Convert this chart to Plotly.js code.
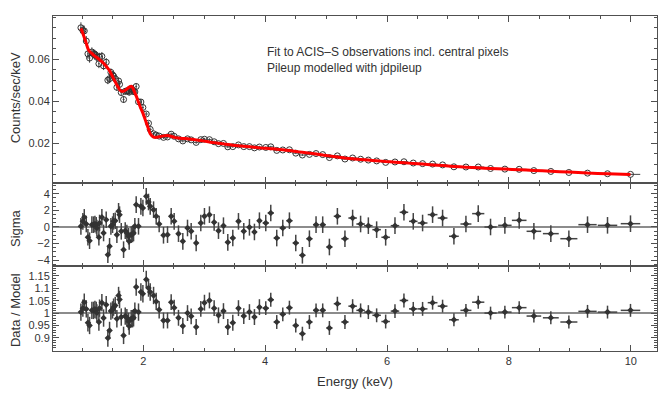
<!DOCTYPE html>
<html>
<head>
<meta charset="utf-8">
<script src="https://cdn.plot.ly/plotly-3.0.1.min.js"></script>
<style>html,body{margin:0;padding:0;background:#fff}#chart{width:664px;height:395px}</style>
</head>
<body>
<div id="chart"></div>
<script>
// Energy bin centres (keV)
const energy = [0.978,1.01,1.033,1.066,1.093,1.12,1.158,1.186,1.208,1.23,1.24,1.273,1.284,1.322,1.35,1.393,1.42,1.448,1.47,1.497,1.514,1.541,1.568,1.596,1.612,1.64,1.678,1.705,1.732,1.76,1.77,1.803,1.825,1.842,1.863,1.885,1.923,1.962,1.995,2.05,2.087,2.115,2.17,2.213,2.262,2.333,2.399,2.459,2.508,2.579,2.65,2.727,2.787,2.869,2.945,3.005,3.087,3.164,3.235,3.317,3.388,3.47,3.563,3.65,3.743,3.825,3.907,4.011,4.093,4.191,4.29,4.399,4.503,4.612,4.727,4.836,4.945,5.055,5.186,5.31,5.436,5.567,5.694,5.83,5.978,6.131,6.278,6.431,6.584,6.748,6.912,7.098,7.295,7.497,7.699,7.934,8.169,8.41,8.688,8.984,9.29,9.618,9.995];
// Bin half-widths (keV)
const energyErr = [0.015,0.015,0.015,0.015,0.015,0.015,0.015,0.015,0.015,0.015,0.015,0.015,0.015,0.015,0.015,0.015,0.015,0.015,0.015,0.015,0.015,0.015,0.015,0.015,0.015,0.015,0.015,0.015,0.015,0.015,0.015,0.015,0.015,0.015,0.015,0.015,0.015,0.015,0.015,0.025,0.025,0.025,0.025,0.025,0.025,0.035,0.035,0.035,0.035,0.035,0.035,0.035,0.035,0.035,0.035,0.035,0.035,0.035,0.035,0.035,0.04,0.04,0.04,0.04,0.04,0.04,0.04,0.05,0.05,0.05,0.05,0.05,0.05,0.05,0.05,0.05,0.05,0.05,0.06,0.06,0.07,0.07,0.07,0.07,0.07,0.07,0.07,0.07,0.08,0.08,0.08,0.08,0.09,0.1,0.1,0.11,0.12,0.12,0.13,0.14,0.15,0.16,0.16,0.17,0.19];
// Observed count rate (counts/sec/keV)
const counts = [0.0749,0.0736,0.0734,0.0686,0.0625,0.0605,0.0634,0.0626,0.0623,0.0617,0.0609,0.0578,0.0609,0.0613,0.0568,0.0585,0.0500,0.0507,0.0537,0.0525,0.0519,0.0507,0.0466,0.0496,0.0480,0.0441,0.0408,0.0447,0.0449,0.0449,0.0443,0.0460,0.0455,0.0446,0.0444,0.0470,0.0397,0.0396,0.0370,0.0339,0.0295,0.0266,0.0245,0.0239,0.0234,0.0228,0.0230,0.0243,0.0233,0.0221,0.0211,0.0221,0.0216,0.0204,0.0217,0.0219,0.0217,0.0207,0.0198,0.0199,0.0183,0.0184,0.0192,0.0184,0.0184,0.0178,0.0182,0.0180,0.0183,0.0166,0.0168,0.0169,0.0153,0.0144,0.0147,0.0151,0.0146,0.0132,0.0140,0.0125,0.0130,0.0124,0.0120,0.0116,0.0109,0.0111,0.0112,0.0106,0.0103,0.0101,0.0097,0.0088,0.0087,0.0087,0.0080,0.0077,0.0076,0.0070,0.0066,0.0061,0.0058,0.0055,0.0052];
const countsErr = [0.0026,0.0025,0.0025,0.0024,0.0023,0.0022,0.0022,0.0022,0.0021,0.0021,0.0021,0.0021,0.0021,0.0021,0.0020,0.0020,0.0019,0.0019,0.0019,0.0018,0.0018,0.0017,0.0017,0.0016,0.0016,0.0016,0.0016,0.0016,0.0016,0.0016,0.0016,0.0016,0.0016,0.0016,0.0015,0.0015,0.0014,0.0013,0.0012,0.0010,0.0009,0.0009,0.0008,0.0008,0.0008,0.00075,0.00076,0.00075,0.00073,0.00072,0.00071,0.00071,0.0007,0.00069,0.00068,0.00067,0.00066,0.00065,0.00064,0.00063,0.00062,0.00061,0.0006,0.0006,0.00059,0.00058,0.00057,0.00049,0.00049,0.00048,0.00047,0.00046,0.00045,0.00044,0.00043,0.00042,0.0004,0.00039,0.00038,0.00036,0.00035,0.00034,0.00034,0.00033,0.00032,0.00031,0.0003,0.00029,0.00028,0.00027,0.00024,0.00023,0.00022,0.00022,0.00021,0.0002,0.00019,0.00018,0.00017,0.00016,0.00015,0.00014,0.00013];
// Folded model (counts/sec/keV)
const model = [0.0746,0.0722,0.0703,0.0675,0.0650,0.0637,0.0627,0.0619,0.0614,0.0610,0.0608,0.0600,0.0597,0.0588,0.0580,0.0566,0.0556,0.0545,0.0533,0.0518,0.0507,0.0492,0.0477,0.0463,0.0455,0.0448,0.0448,0.0452,0.0458,0.0465,0.0467,0.0471,0.0466,0.0455,0.0440,0.0425,0.0395,0.0365,0.0343,0.0298,0.0268,0.0245,0.0229,0.0228,0.0231,0.0235,0.0237,0.0233,0.0228,0.0225,0.0223,0.0221,0.0219,0.0216,0.0213,0.0210,0.0206,0.0203,0.0200,0.0197,0.0194,0.0191,0.0188,0.0186,0.0183,0.0181,0.0178,0.0176,0.0174,0.0172,0.0169,0.0165,0.0161,0.0157,0.0153,0.0149,0.0144,0.0140,0.0135,0.0130,0.0126,0.0123,0.0120,0.0117,0.0113,0.0110,0.0107,0.0104,0.0101,0.0097,0.0094,0.0090,0.0086,0.0083,0.0080,0.0077,0.0074,0.0071,0.0067,0.0063,0.0058,0.0055,0.0051];
// Residuals in sigma
const sigma = [0.08,0.68,1.16,0.36,-1.24,-1.65,0.28,0.28,0.36,0.2,-0.12,-1.24,0.48,1.16,-0.72,0.88,-3.33,-2.33,0.08,0.28,0.68,0.76,-0.92,1.89,1.49,-0.52,-2.73,-0.44,-0.72,-1.12,-1.73,-0.92,-0.84,-0.72,0.08,2.69,0.08,2.49,2.29,3.69,3.01,2.49,2.09,1.29,0.36,-1.0,-0.92,1.29,0.68,-0.8,-1.73,-0.12,-0.52,-1.93,0.48,1.29,1.49,0.56,-0.44,0.16,-1.85,-1.33,0.68,-0.52,-0.04,-0.6,0.76,0.48,1.69,-1.33,-0.12,0.76,-1.93,-3.41,-1.41,0.28,0.28,-2.41,1.29,-1.41,1.08,0.36,0.16,-0.32,-1.24,0.16,1.77,0.68,0.48,1.49,1.08,-1.12,0.36,1.61,0.0,0.2,0.8,-0.52,-0.8,-1.41,0.28,0.2,0.4];
// Data / Model ratio
const ratio = [1.004,1.020,1.044,1.017,0.961,0.950,1.011,1.011,1.015,1.011,1.001,0.964,1.020,1.042,0.980,1.034,0.899,0.930,1.008,1.013,1.024,1.031,0.977,1.071,1.055,0.984,0.910,0.988,0.981,0.966,0.948,0.977,0.977,0.981,1.008,1.105,1.004,1.085,1.078,1.136,1.101,1.085,1.071,1.047,1.013,0.970,0.970,1.044,1.022,0.981,0.948,1.000,0.987,0.944,1.017,1.042,1.051,1.020,0.991,1.008,0.944,0.961,1.020,0.988,1.004,0.984,1.024,1.020,1.054,0.964,0.995,1.022,0.950,0.917,0.964,1.011,1.011,0.940,1.038,0.964,1.028,1.011,1.004,0.991,0.966,1.008,1.051,1.017,1.017,1.042,1.028,0.973,1.011,1.044,1.000,1.004,1.022,0.988,0.981,0.964,1.007,1.004,1.011];
const ratioErr = [0.035,0.035,0.035,0.035,0.035,0.035,0.035,0.035,0.035,0.035,0.035,0.035,0.035,0.035,0.035,0.035,0.035,0.035,0.035,0.035,0.035,0.035,0.035,0.035,0.035,0.035,0.035,0.035,0.035,0.035,0.035,0.035,0.035,0.035,0.035,0.035,0.035,0.035,0.035,0.035,0.035,0.035,0.035,0.035,0.035,0.032,0.032,0.032,0.032,0.032,0.032,0.032,0.032,0.032,0.032,0.032,0.032,0.032,0.032,0.032,0.032,0.032,0.032,0.032,0.032,0.032,0.032,0.028,0.028,0.028,0.028,0.028,0.028,0.028,0.028,0.028,0.028,0.028,0.028,0.028,0.028,0.028,0.028,0.028,0.028,0.028,0.028,0.028,0.028,0.028,0.026,0.026,0.026,0.026,0.026,0.026,0.026,0.026,0.026,0.026,0.026,0.026,0.026];

const countTicks = [0.02,0.04,0.06];
const countTickText = ['0.02','0.04','0.06'];
const sigmaTicks = [-4,-2,0,2,4];
const sigmaTickText = ['\u22124','\u22122','0','2','4'];
const ratioTicks = [0.9,0.95,1,1.05,1.1,1.15];
const ratioTickText = ['0.9','0.95','1','1.05','1.1','1.15'];
const energyTicks = [2,4,6,8,10];
const energyTickText = ['2','4','6','8','10'];

const FONT = '"Liberation Sans", Arial, Helvetica, sans-serif';
const FRAME = '#505050';
const DARK = '#333333';

const traces = [
  {x: energy, y: counts, xaxis:'x', yaxis:'y', type:'scatter', mode:'markers',
   marker:{symbol:'circle-open', size:6, color:DARK, line:{width:1, color:DARK}},
   error_y:{type:'data', array:countsErr, visible:true, color:'#444', thickness:1, width:0},
   error_x:{type:'data', array:energyErr, visible:true, color:'#444', thickness:1, width:0},
   hoverinfo:'skip'},
  {x: energy, y: model, xaxis:'x', yaxis:'y', type:'scatter', mode:'lines',
   line:{color:'#ff0000', width:3, shape:'spline', smoothing:0.6}, hoverinfo:'skip'},
  {x: energy, y: sigma, xaxis:'x2', yaxis:'y2', type:'scatter', mode:'markers',
   marker:{symbol:'diamond', size:5, color:DARK},
   error_y:{type:'constant', value:1, visible:true, color:'#444', thickness:1.5, width:0},
   error_x:{type:'data', array:energyErr, visible:true, color:'#444', thickness:1.5, width:0},
   hoverinfo:'skip'},
  {x: energy, y: ratio, xaxis:'x3', yaxis:'y3', type:'scatter', mode:'markers',
   marker:{symbol:'diamond', size:5, color:DARK},
   error_y:{type:'data', array:ratioErr, visible:true, color:'#444', thickness:1.5, width:0},
   error_x:{type:'data', array:energyErr, visible:true, color:'#444', thickness:1.5, width:0},
   hoverinfo:'skip'}
];

function xAxis(anchor, labels) {
  return {
    anchor: anchor, range:[0.52, 10.43], showgrid:false, zeroline:false,
    showline:true, linecolor:FRAME, linewidth:1, mirror:'allticks',
    ticks:'inside', ticklen:6, tickcolor:FRAME, tickwidth:1,
    tickmode:'array', tickvals: energyTicks, ticktext: energyTickText,
    showticklabels: labels, tickfont:{family:FONT, size:11, color:DARK},
    minor:{tickmode:'linear', tick0:0, dtick:0.5, ticks:'inside', ticklen:3, tickcolor:FRAME}
  };
}
function yAxis(anchor, domain, range, vals, text, minorDtick) {
  return {
    anchor: anchor, domain: domain, range: range, showgrid:false, zeroline:false,
    showline:true, linecolor:FRAME, linewidth:1, mirror:'allticks',
    ticks:'inside', ticklen:6, tickcolor:FRAME, tickwidth:1,
    tickmode:'array', tickvals: vals, ticktext: text,
    tickfont:{family:FONT, size:11, color:DARK},
    minor:{tickmode:'linear', tick0:0, dtick:minorDtick, ticks:'inside', ticklen:3, tickcolor:FRAME}
  };
}

const layout = {
  width:664, height:395,
  margin:{l:53, r:7, t:16, b:44},
  paper_bgcolor:'#ffffff', plot_bgcolor:'#ffffff',
  showlegend:false,
  font:{family:FONT, color:DARK},
  xaxis: xAxis('y', false),
  xaxis2: Object.assign(xAxis('y2', false), {matches:'x'}),
  xaxis3: Object.assign(xAxis('y3', true), {matches:'x'}),
  yaxis: yAxis('x', [0.5015, 1], [0.0011, 0.0805], countTicks, countTickText, 0.005),
  yaxis2: yAxis('x2', [0.2537, 0.5015], [-4.7, 5.3], sigmaTicks, sigmaTickText, 0.5),
  yaxis3: yAxis('x3', [0, 0.2537], [0.847, 1.19], ratioTicks, ratioTickText, 0.01),
  shapes:[
    {type:'line', xref:'x2 domain', yref:'y2', x0:0, x1:1, y0:0, y1:0, line:{color:'#666', width:1.5}, layer:'below'},
    {type:'line', xref:'x3 domain', yref:'y3', x0:0, x1:1, y0:1, y1:1, line:{color:'#666', width:1.5}, layer:'below'}
  ],
  annotations:[
    {text:'Fit to ACIS\u2013S observations incl. central pixels<br>Pileup modelled with jdpileup',
     xref:'paper', yref:'paper', x:0.351, y:0.869, xanchor:'left', yanchor:'middle', align:'left',
     showarrow:false, font:{family:FONT, size:12, color:DARK}},
    {text:'Counts/sec/keV', xref:'paper', yref:'paper', x:-0.063, y:0.757, textangle:-90,
     xanchor:'center', yanchor:'middle', showarrow:false, font:{family:FONT, size:13, color:DARK}},
    {text:'Sigma', xref:'paper', yref:'paper', x:-0.063, y:0.367, textangle:-90,
     xanchor:'center', yanchor:'middle', showarrow:false, font:{family:FONT, size:13, color:DARK}},
    {text:'Data / Model', xref:'paper', yref:'paper', x:-0.063, y:0.122, textangle:-90,
     xanchor:'center', yanchor:'middle', showarrow:false, font:{family:FONT, size:13, color:DARK}},
    {text:'Energy (keV)', xref:'paper', yref:'paper', x:0.5, y:-0.0925,
     xanchor:'center', yanchor:'middle', showarrow:false, font:{family:FONT, size:13, color:DARK}}
  ]
};

Plotly.newPlot('chart', traces, layout, {displayModeBar:false, staticPlot:true});
</script>
</body>
</html>
